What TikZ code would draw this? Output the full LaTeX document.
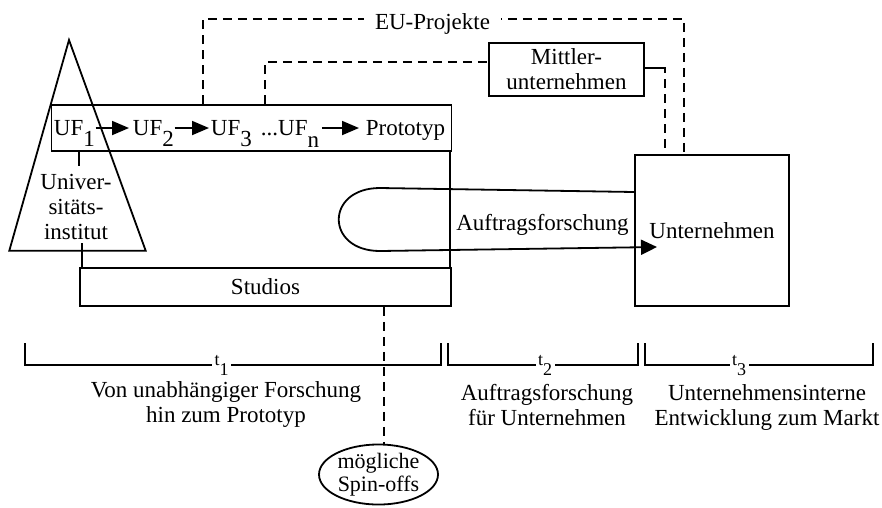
\documentclass[tikz,border=0pt]{standalone}
\usepackage{fontspec}
\setmainfont{Liberation Serif}
\usetikzlibrary{arrows.meta,shapes.geometric}
\newcommand\lowsub[2][11.5pt]{\raisebox{-#1}{#2}}
\begin{document}
\begin{tikzpicture}[x=1pt,y=-1pt,line width=1.8pt,
  font=\fontsize{23}{25}\selectfont,
  box/.style={draw,rectangle,inner sep=0pt},
  txt/.style={inner sep=0pt},
  dashline/.style={dash pattern=on 9pt off 6pt},
  arr/.style={-{Triangle[length=17pt,width=14pt]}},
  bigarr/.style={-{Triangle[length=16pt,width=15pt]}},
  tlab/.style={fill=white,inner xsep=2.5pt,inner ysep=0pt,anchor=base,font=\fontsize{18}{18}\selectfont}]
\useasboundingbox (0,0) rectangle (882,507);

% triangle (university institute)
\draw (69,40) -- (145.7,250.7) -- (9.3,250.7) -- cycle;

% boxes
\node[box,minimum width=400pt,minimum height=46pt] (ufbox) at (251.5,128) {};
\node[box,minimum width=371pt,minimum height=38pt] (studios) at (265.5,287) {Studios};
\node[box,minimum width=154pt,minimum height=151pt] (unt) at (712,230.5) {Unternehmen};
\node[box,minimum width=155pt,minimum height=53pt,align=center] (mittler) at (566.5,69.5) {Mittler-\\unternehmen};
\node[draw,ellipse,minimum width=119pt,minimum height=55pt,inner sep=0pt,align=center,
      font=\fontsize{22}{22.5}\selectfont] (spin) at (378.5,474.5) {mögliche\\Spin-offs};

% UF row
\node[txt,anchor=base west] (uf1) at (53,135) {UF\lowsub{1}};
\node[txt,anchor=base west] (uf2) at (132,135) {UF\lowsub{2}};
\node[txt,anchor=base west] (uf3) at (210,135) {UF\lowsub{3}};
\node[txt,anchor=base west] (ufn) at (260,135) {...UF\lowsub[12.5pt]{n}};
\node[txt,anchor=base west] (proto) at (365,135) {Prototyp};
\coordinate (arow) at (0,128);
\draw[arr,shorten >=3pt] (uf1.east |- arow) -- (uf2.west |- arow);
\draw[arr,shorten >=1pt] (uf2.east |- arow) -- (uf3.west |- arow);
\draw[arr,shorten >=6pt] ([xshift=2pt]ufn.east |- arow) -- (proto.west |- arow);

% institute text and its links
\node[txt,align=center] (inst) at (76,207) {Univer-\\sitäts-\\institut};
\coordinate (i1) at (79,166);
\coordinate (i2) at (82,243);
\draw (ufbox.south -| i1) -- (i1);
\draw (i2) -- (i2 |- studios.north);

% right link between UF box and Studios
\coordinate (vx) at (450,0);
\draw (ufbox.south -| vx) -- (studios.north -| vx);

% Auftragsforschung loop
\coordinate (ltop) at (0,192);
\coordinate (la) at (380,188);
\coordinate (lb) at (380,251);
\coordinate (ltip) at (657,247);
\draw[bigarr] (unt.west |- ltop) -- (la) .. controls (325,188) and (325,251) .. (lb) -- (ltip);
\node[txt,anchor=base] (auftrag) at (542.5,230) {Auftragsforschung};

% dashed links
\coordinate (euL) at (203,19);
\coordinate (euR) at (684,19);
\draw[dashline] (ufbox.north -| euL) -- (euL) -- (euR) -- (unt.north -| euR);
\node[fill=white,inner xsep=11pt,inner ysep=2pt,anchor=base] (eu) at (432.5,29) {EU-Projekte};
\coordinate (mL) at (265,62);
\draw[dashline] (ufbox.north -| mL) -- (mL) -- (mL -| mittler.west);
\coordinate (mR) at (665,68);
\draw (mR -| mittler.east) -- ([xshift=-4pt]mR);
\draw[dashline] ([xshift=-4pt]mR) -- (mR) -- (mR |- unt.north);
\coordinate (sx) at (384,0);
\draw[dashline] (studios.south -| sx) -- (sx |- spin.north);

% time brackets
\draw (25,343) -- (25,365) -- (441,365) -- (441,343);
\draw (448,343) -- (448,365) -- (638,365) -- (638,343);
\draw (645,343) -- (645,365) -- (873,365) -- (873,343);
\node[tlab] (t1) at (221.5,365) {t\lowsub[10pt]{1}};
\node[tlab] (t2) at (545,365) {t\lowsub[10pt]{2}};
\node[tlab] (t3) at (739,365) {t\lowsub[10pt]{3}};

% phase descriptions
\node[txt,align=center] (d1) at (226,404.2) {Von unabhängiger Forschung\\hin zum Prototyp};
\node[txt,align=center] (d2) at (547,404.6) {Auftragsforschung\\für Unternehmen};
\node[txt,align=center] (d3) at (767,407.2) {Unternehmensinterne\\Entwicklung zum Markt};
\end{tikzpicture}
\end{document}
